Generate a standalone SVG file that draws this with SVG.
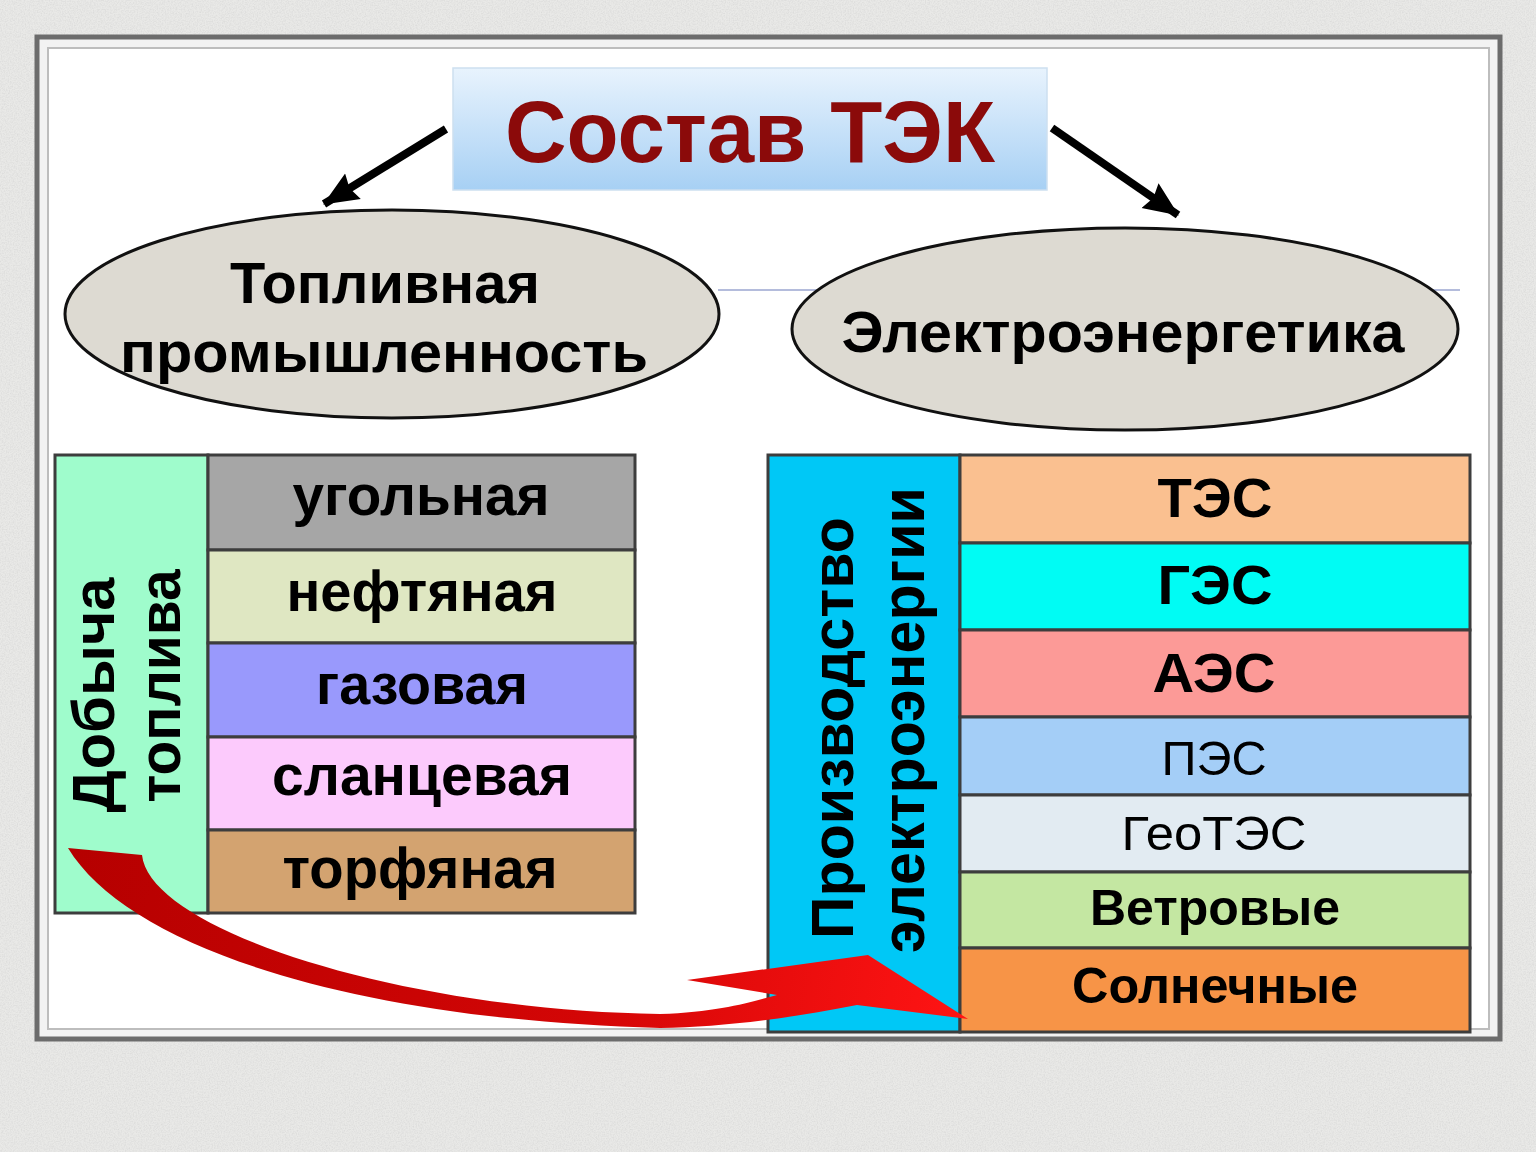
<svg xmlns="http://www.w3.org/2000/svg" width="1536" height="1152" viewBox="0 0 1536 1152">
<defs>
  <linearGradient id="titleGrad" x1="0" y1="0" x2="0" y2="1">
    <stop offset="0" stop-color="#e8f3fd"/>
    <stop offset="1" stop-color="#a7d0f4"/>
  </linearGradient>
  <linearGradient id="redGrad" gradientUnits="userSpaceOnUse" x1="68" y1="850" x2="968" y2="1000">
    <stop offset="0" stop-color="#b50000"/>
    <stop offset="0.6" stop-color="#d40606"/>
    <stop offset="1" stop-color="#ff1414"/>
  </linearGradient>
  <marker id="ah" markerUnits="userSpaceOnUse" markerWidth="40" markerHeight="34" refX="34" refY="17" orient="auto">
    <path d="M0,2 L35,17 L0,32 L4,17 z" fill="#000"/>
  </marker>
  <filter id="grain" x="0" y="0" width="100%" height="100%">
    <feTurbulence type="fractalNoise" baseFrequency="0.75" numOctaves="2" seed="4" result="n"/>
    <feColorMatrix in="n" type="matrix" values="0 0 0 0 0.6  0 0 0 0 0.6  0 0 0 0 0.6  0.9 0 0 0 -0.33"/>
  </filter>
  <style>
    .t { font-family: "Liberation Sans", Arial, sans-serif; fill: #000; text-anchor: middle; }
    .b { font-weight: bold; }
    .cell { stroke: #3d3d3d; stroke-width: 3; }
    .oval { fill: #dddad2; stroke: #111; stroke-width: 3; }
    .conn { stroke: #000; stroke-width: 8; fill: none; marker-end: url(#ah); }
  </style>
</defs>

<g id="background">
  <rect x="0" y="0" width="1536" height="1152" fill="#e9e9e7"/>
  <rect x="0" y="0" width="1536" height="1152" filter="url(#grain)"/>
  <rect x="37" y="37" width="1463" height="1002" fill="#f2f2f2" stroke="#6c6c6c" stroke-width="5"/>
  <rect x="48" y="48" width="1441" height="981" fill="#ffffff" stroke="#bdbdbd" stroke-width="2"/>
  <line x1="718" y1="290" x2="1460" y2="290" stroke="#b4bcdc" stroke-width="2"/>
</g>

<g id="title">
  <rect x="453" y="68" width="594" height="122" fill="url(#titleGrad)" stroke="#cddff0" stroke-width="1.5"/>
  <text class="t b" x="750" y="162" font-size="88" style="fill:#8b0a0a" textLength="490" lengthAdjust="spacingAndGlyphs">Состав ТЭК</text>
</g>

<g id="fuel-industry">
  <ellipse class="oval" cx="392" cy="314" rx="327" ry="104"/>
  <text class="t b" x="385" y="303" font-size="57" textLength="310" lengthAdjust="spacingAndGlyphs">Топливная</text>
  <text class="t b" x="384" y="372" font-size="57" textLength="528" lengthAdjust="spacingAndGlyphs">промышленность</text>
</g>

<g id="power-industry">
  <ellipse class="oval" cx="1125" cy="329" rx="333" ry="101"/>
  <text class="t b" x="1123" y="352" font-size="57" textLength="563" lengthAdjust="spacingAndGlyphs">Электроэнергетика</text>
</g>

<g id="fuel-extraction">
  <rect class="cell" x="55" y="455" width="153" height="458" fill="#9ffccc"/>
  <text class="t b" x="114" y="695" font-size="60" transform="rotate(-90 114 695)" textLength="235" lengthAdjust="spacingAndGlyphs">Добыча</text>
  <text class="t b" x="180" y="686" font-size="60" transform="rotate(-90 180 686)" textLength="233" lengthAdjust="spacingAndGlyphs">топлива</text>
</g>
<g id="coal">
  <rect class="cell" x="208" y="455" width="427" height="95" fill="#a6a6a6"/>
  <text class="t b" x="421" y="515" font-size="58" textLength="257" lengthAdjust="spacingAndGlyphs">угольная</text>
</g>
<g id="oil">
  <rect class="cell" x="208" y="550" width="427" height="93" fill="#dfe7c2"/>
  <text class="t b" x="422" y="611" font-size="58" textLength="271" lengthAdjust="spacingAndGlyphs">нефтяная</text>
</g>
<g id="gas">
  <rect class="cell" x="208" y="643" width="427" height="94" fill="#9999fc"/>
  <text class="t b" x="422" y="704" font-size="58" textLength="212" lengthAdjust="spacingAndGlyphs">газовая</text>
</g>
<g id="shale">
  <rect class="cell" x="208" y="737" width="427" height="93" fill="#fccafc"/>
  <text class="t b" x="422" y="795" font-size="58" textLength="300" lengthAdjust="spacingAndGlyphs">сланцевая</text>
</g>
<g id="peat">
  <rect class="cell" x="208" y="830" width="427" height="83" fill="#d3a370"/>
  <text class="t b" x="420" y="888" font-size="58" textLength="275" lengthAdjust="spacingAndGlyphs">торфяная</text>
</g>

<g id="power-production">
  <rect class="cell" x="768" y="455" width="192" height="577" fill="#00c8f6"/>
  <text class="t b" x="853" y="728" font-size="60" transform="rotate(-90 853 728)" textLength="422" lengthAdjust="spacingAndGlyphs">Производство</text>
  <text class="t b" x="924" y="720" font-size="62" transform="rotate(-90 924 720)" textLength="466" lengthAdjust="spacingAndGlyphs">электроэнергии</text>
</g>
<g id="tes">
  <rect class="cell" x="960" y="455" width="510" height="88" fill="#fac090"/>
  <text class="t b" x="1215" y="517" font-size="56" textLength="115" lengthAdjust="spacingAndGlyphs">ТЭС</text>
</g>
<g id="ges">
  <rect class="cell" x="960" y="543" width="510" height="87" fill="#00fcf4"/>
  <text class="t b" x="1215" y="604" font-size="56" textLength="115" lengthAdjust="spacingAndGlyphs">ГЭС</text>
</g>
<g id="aes">
  <rect class="cell" x="960" y="630" width="510" height="87" fill="#fc9a97"/>
  <text class="t b" x="1214" y="692" font-size="56" textLength="123" lengthAdjust="spacingAndGlyphs">АЭС</text>
</g>
<g id="pes">
  <rect class="cell" x="960" y="717" width="510" height="78" fill="#a4cef7"/>
  <text class="t" x="1214" y="775" font-size="49" textLength="105" lengthAdjust="spacingAndGlyphs">ПЭС</text>
</g>
<g id="geotes">
  <rect class="cell" x="960" y="795" width="510" height="77" fill="#e2ebf2"/>
  <text class="t" x="1214" y="850" font-size="49" textLength="185" lengthAdjust="spacingAndGlyphs">ГеоТЭС</text>
</g>
<g id="wind">
  <rect class="cell" x="960" y="872" width="510" height="76" fill="#c4e7a2"/>
  <text class="t b" x="1215" y="925" font-size="50" textLength="250" lengthAdjust="spacingAndGlyphs">Ветровые</text>
</g>
<g id="solar">
  <rect class="cell" x="960" y="948" width="510" height="84" fill="#f79447"/>
  <text class="t b" x="1215" y="1003" font-size="50" textLength="286" lengthAdjust="spacingAndGlyphs">Солнечные</text>
</g>

<g id="connectors">
  <line class="conn" x1="446" y1="129" x2="324" y2="204"/>
  <line class="conn" x1="1052" y1="128" x2="1178" y2="215"/>
  <path d="M68,848 L142,855 C150,930 400,1010 660,1014 C720,1012 750,1002 777,995 L687,980 L868,955 L968,1019 L857,1005 C780,1020 720,1027 660,1028 C360,1020 130,950 68,848 Z" fill="url(#redGrad)"/>
</g>
</svg>
